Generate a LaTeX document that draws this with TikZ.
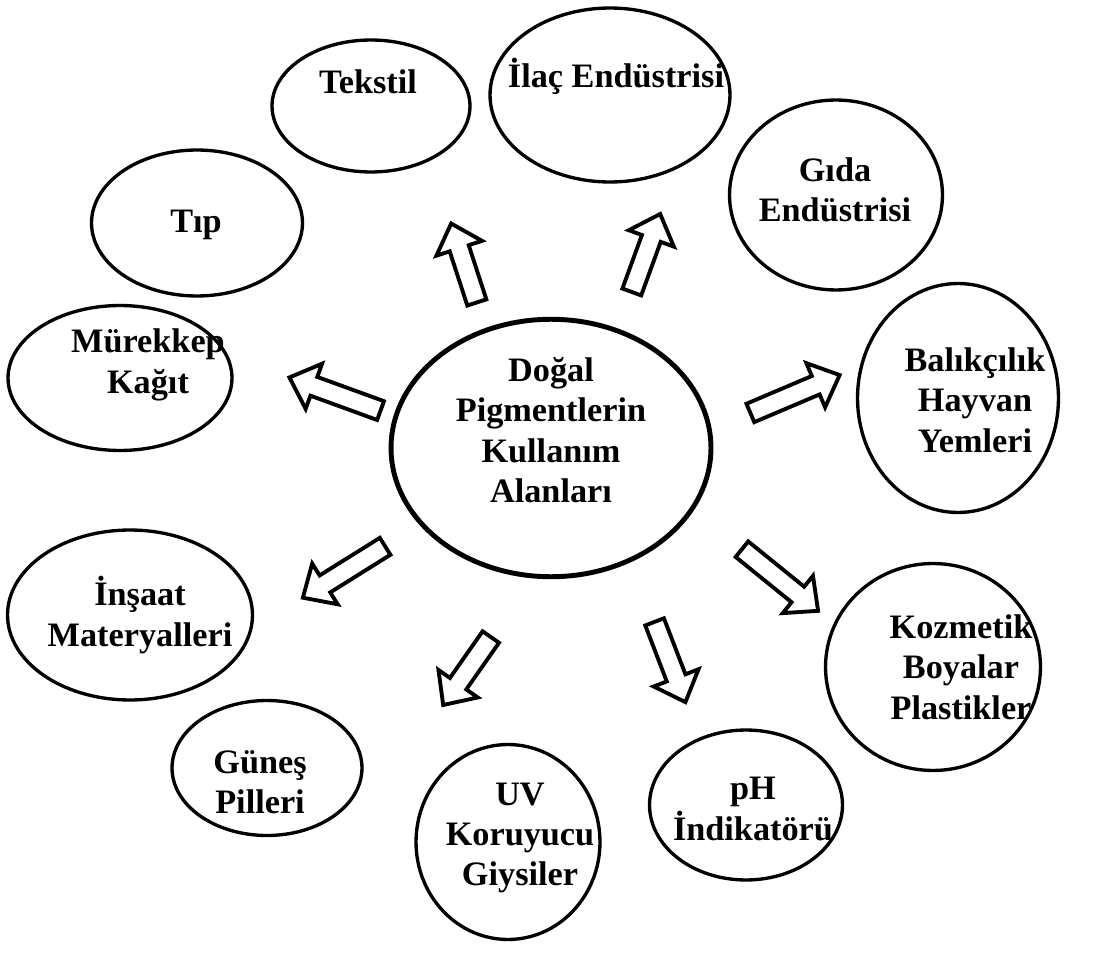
\documentclass[tikz,border=0pt]{standalone}
\usepackage{fontspec}
\setmainfont{Liberation Serif}
\usetikzlibrary{shapes.geometric}

\begin{document}
\begin{tikzpicture}[x=0.02cm,y=-0.02cm]
  \tikzset{
    area/.style={draw, ellipse, line width=1.9pt, inner sep=0pt},
    hub/.style={area, line width=2.8pt},
    txt/.style={align=center, font=\fontsize{19.5}{23}\selectfont\bfseries},
    pics/blk/.style={code={
      \draw[x=1cm, y=1cm, line width=2.2pt, line join=miter]
        (-#1/2,-0.2) -- (#1/2-0.52,-0.2) -- (#1/2-0.52,-0.48) -- (#1/2,0)
        -- (#1/2-0.52,0.48) -- (#1/2-0.52,0.2) -- (-#1/2,0.2) -- cycle;
    }}
  }
  \useasboundingbox (0,0) rectangle (1109,956);

  \node [hub, minimum width=6.4cm, minimum height=5.15cm] (hub) at (551,448) {};
  \node [txt] (hub-t) at (551,430) {Doğal\\Pigmentlerin\\Kullanım\\Alanları};

  \node [area, minimum width=3.96cm, minimum height=2.64cm] (tekstil) at (371,106) {};
  \node [txt] (tekstil-t) at (368,82) {Tekstil};
  \node [area, minimum width=4.8cm, minimum height=3.48cm] (ilac) at (610,95) {};
  \node [txt] (ilac-t) at (616,76) {İlaç Endüstrisi};
  \node [area, minimum width=4.26cm, minimum height=3.8cm] (gida) at (836,195) {};
  \node [txt] (gida-t) at (835,190) {Gıda\\Endüstrisi};
  \node [area, minimum width=4.22cm, minimum height=2.92cm] (tip) at (197,223) {};
  \node [txt] (tip-t) at (196,225) {Tıp};
  \node [area, minimum width=4.48cm, minimum height=2.9cm] (murekkep) at (120,378) {};
  \node [txt] (murekkep-t) at (148,365) {Mürekkep\\Kağıt};
  \node [area, minimum width=4.02cm, minimum height=4.58cm] (balik) at (958,398) {};
  \node [txt] (balik-t) at (975,400) {Balıkçılık\\Hayvan\\Yemleri};
  \node [area, minimum width=4.9cm, minimum height=3.4cm] (insaat) at (130,615) {};
  \node [txt] (insaat-t) at (140,615) {İnşaat\\Materyalleri};
  \node [area, minimum width=4.3cm, minimum height=4.14cm] (kozmetik) at (933,667) {};
  \node [txt] (kozmetik-t) at (961,667) {Kozmetik\\Boyalar\\Plastikler};
  \node [area, minimum width=3.8cm, minimum height=2.7cm] (gunes) at (267,768) {};
  \node [txt] (gunes-t) at (260,782) {Güneş\\Pilleri};
  \node [area, minimum width=3.68cm, minimum height=3.9cm] (uv) at (508,842) {};
  \node [txt] (uv-t) at (520,838) {UV\\Koruyucu\\Giysiler};
  \node [area, minimum width=3.86cm, minimum height=3cm] (ph) at (746,805) {};
  \node [txt] (ph-t) at (753,809) {pH\\İndikatörü};

  % block arrows
  \pic [rotate=108] (to-tekstil) at (464,263) {blk=1.66};
  \pic [rotate=70] (to-ilac) at (646,253) {blk=1.66};
  \pic [rotate=160] (to-murekkep) at (335,394) {blk=1.94};
  \pic [rotate=23] (to-balik) at (795,394) {blk=1.94};
  \pic [rotate=212] (to-insaat) at (344,572) {blk=1.94};
  \pic [rotate=235] (to-uv) at (467,671) {blk=1.66};
  \pic [rotate=-69] (to-ph) at (670,662) {blk=1.72};
  \pic [rotate=-39] (to-kozmetik) at (780,580) {blk=1.96};
\end{tikzpicture}
\end{document}
